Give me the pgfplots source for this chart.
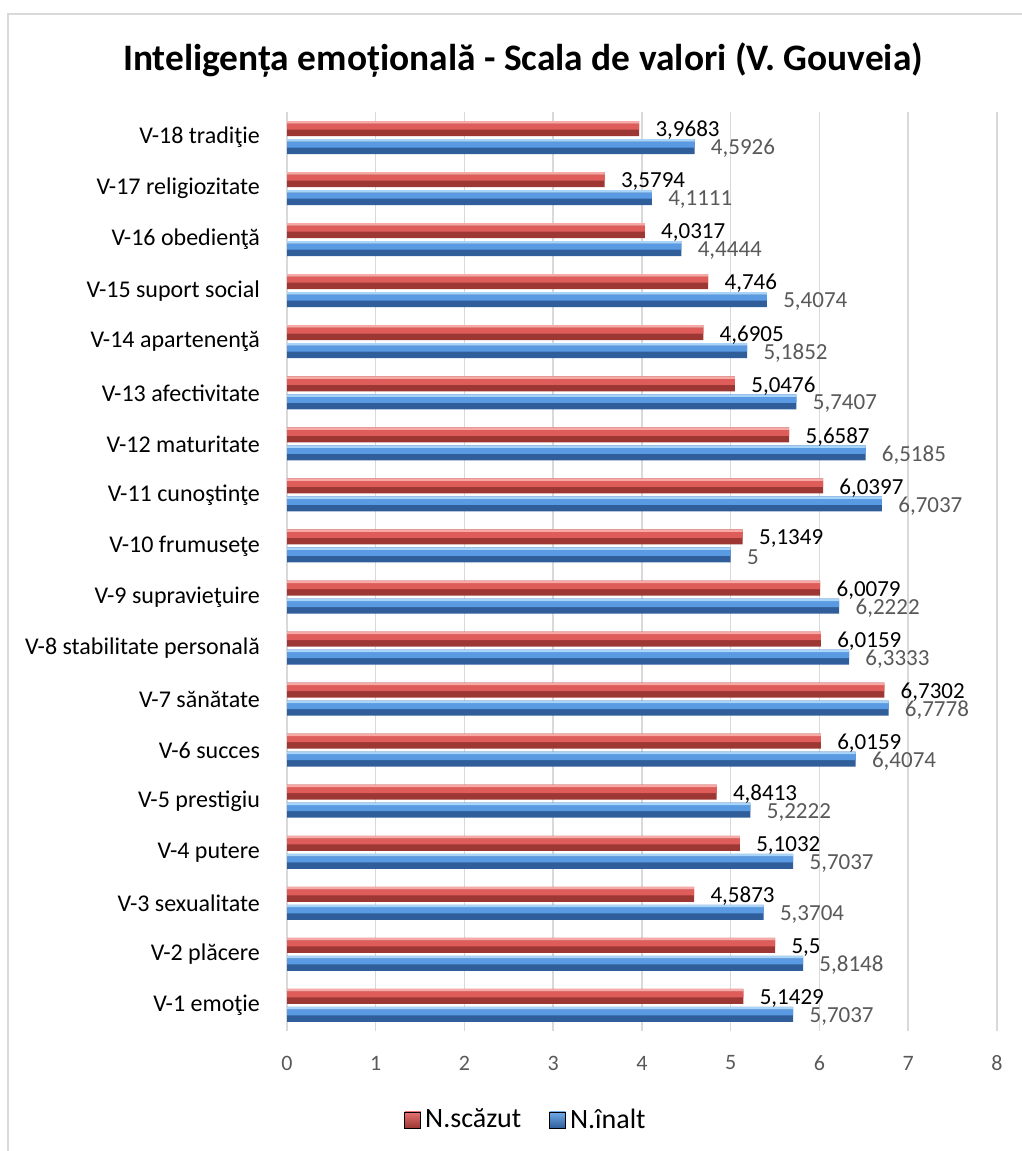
\documentclass[border=0pt]{standalone}
\usepackage{pgfplots}
\pgfplotsset{compat=1.18}
\usepackage{fontspec}
\setmainfont{Carlito}
\definecolor{gridc}{HTML}{D9D9D9}
\definecolor{tickc}{HTML}{595959}
\definecolor{rtop}{HTML}{F7A9A6}
\definecolor{rmid}{HTML}{DE5D5A}
\definecolor{rbot}{HTML}{9C3734}
\definecolor{btop}{HTML}{A9D4FA}
\definecolor{bmid}{HTML}{5A9AE3}
\definecolor{bbot}{HTML}{2F5E9A}

\pgfplotstableread{
idx val lab
1  5.1429 5,1429
2  5.5    5,5
3  4.5873 4,5873
4  5.1032 5,1032
5  4.8413 4,8413
6  6.0159 6,0159
7  6.7302 6,7302
8  6.0159 6,0159
9  6.0079 6,0079
10 5.1349 5,1349
11 6.0397 6,0397
12 5.6587 5,6587
13 5.0476 5,0476
14 4.6905 4,6905
15 4.746  4,746
16 4.0317 4,0317
17 3.5794 3,5794
18 3.9683 3,9683
}\lowdata
\pgfplotstableread{
idx val lab
1  5.7037 5,7037
2  5.8148 5,8148
3  5.3704 5,3704
4  5.7037 5,7037
5  5.2222 5,2222
6  6.4074 6,4074
7  6.7778 6,7778
8  6.3333 6,3333
9  6.2222 6,2222
10 5      5
11 6.7037 6,7037
12 6.5185 6,5185
13 5.7407 5,7407
14 5.1852 5,1852
15 5.4074 5,4074
16 4.4444 4,4444
17 4.1111 4,1111
18 4.5926 4,5926
}\highdata

\begin{document}
\begin{tikzpicture}
\path[use as bounding box] (0,0) rectangle (511pt,575.5pt);
\draw[gridc, line width=0.75pt] (4pt,0) -- (4pt,568.5pt) -- (511pt,568.5pt);
\node[font=\fontsize{18.7}{22}\selectfont\bfseries, text=black] at (261.5pt,545.5pt) {Inteligența emoțională - Scala de valori (V. Gouveia)};
\begin{axis}[
  at={(143.5pt,60pt)}, anchor=south west,
  scale only axis, width=355pt, height=459.5pt,
  xbar,
  xmin=0, xmax=8, ymin=0.5, ymax=18.5,
  xtick={0,...,8}, ytick={1,...,18},
  yticklabels={V-1 emoţie, V-2 plăcere, V-3 sexualitate, V-4 putere, V-5 prestigiu, V-6 succes, V-7 sănătate, V-8 stabilitate personală, V-9 supravieţuire, V-10 frumuseţe, V-11 cunoştinţe, V-12 maturitate, V-13 afectivitate, V-14 apartenenţă, V-15 suport social, V-16 obedienţă, V-17 religiozitate, V-18 tradiţie},
  xmajorgrids, major grid style={gridc, line width=0.75pt},
  axis x line*=bottom, axis y line*=left,
  x axis line style={draw=none}, y axis line style={gridc, line width=0.75pt},
  major tick length=0pt,
  xticklabel style={font=\fontsize{11}{13}\selectfont, text=tickc, anchor=center, yshift=-16pt},
  yticklabel style={font=\fontsize{12}{14}\selectfont, text=black, anchor=east, xshift=-10pt},
  /pgf/number format/assume math mode=true,
  legend style={at={(0.338,-0.0968)}, anchor=center, draw=none, legend columns=2, font=\fontsize{14}{16}\selectfont, inner sep=0pt,
    /tikz/every even column/.append style={column sep=12pt}, nodes={inner sep=2pt}},
  clip=false,
]
% red series (N.scazut)
\addplot[xbar, forget plot, bar width=7.5pt, bar shift=4.5pt, draw=none, fill=rbot,
  nodes near coords, point meta=explicit symbolic,
  nodes near coords style={font=\fontsize{11.5}{13}\selectfont, text=black, anchor=west, inner sep=0pt, xshift=8pt, yshift=-1pt}]
  table[x=val, y=idx, meta=lab] {\lowdata};
\addplot[xbar, forget plot, bar width=3pt, bar shift=5.5pt, draw=none, fill=rmid]
  table[x=val, y=idx] {\lowdata};
\addplot[xbar, forget plot, bar width=1.25pt, bar shift=7.625pt, draw=none, fill=rtop]
  table[x=val, y=idx] {\lowdata};
% blue series (N.inalt)
\addplot[xbar, forget plot, bar width=7.5pt, bar shift=-4.5pt, draw=none, fill=bbot,
  nodes near coords, point meta=explicit symbolic,
  nodes near coords style={font=\fontsize{11.5}{13}\selectfont, text=tickc, anchor=west, inner sep=0pt, xshift=8pt, yshift=-1pt}]
  table[x=val, y=idx, meta=lab] {\highdata};
\addplot[xbar, forget plot, bar width=3pt, bar shift=-3.5pt, draw=none, fill=bmid]
  table[x=val, y=idx] {\highdata};
\addplot[xbar, forget plot, bar width=1.25pt, bar shift=-1.375pt, draw=none, fill=btop]
  table[x=val, y=idx] {\highdata};
\addlegendimage{legend image code/.code={\path[top color=rmid!70!rtop, bottom color=rbot] (0pt,-4pt) rectangle (8pt,4pt);}}
\addlegendentry{N.scăzut}
\addlegendimage{legend image code/.code={\path[top color=bmid!70!btop, bottom color=bbot] (0pt,-4pt) rectangle (8pt,4pt);}}
\addlegendentry{N.înalt}
\end{axis}
\end{tikzpicture}
\end{document}
